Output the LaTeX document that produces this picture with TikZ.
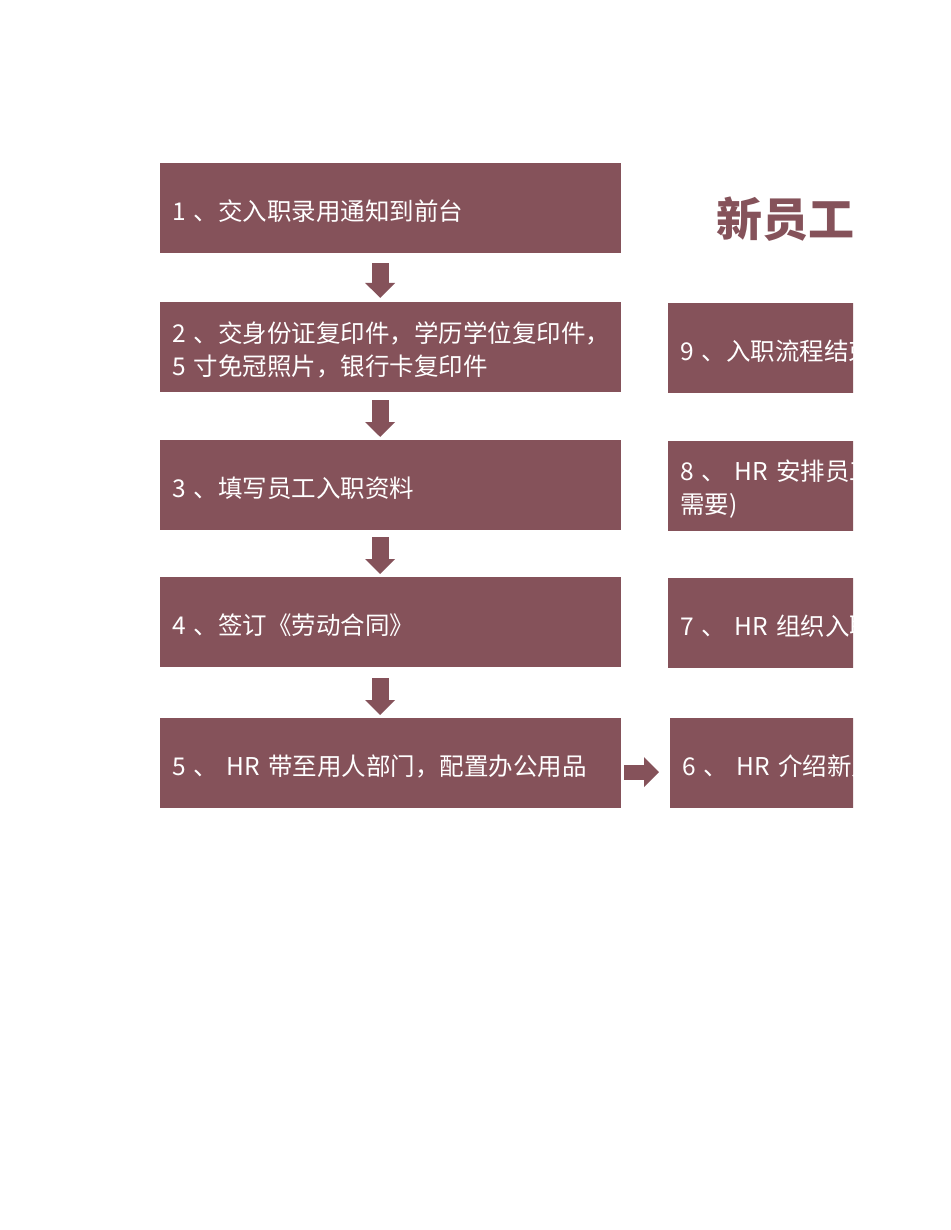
\documentclass[tikz,border=0pt]{standalone}
\usepackage{fontspec}
\setmainfont{Noto Sans CJK SC}
\usetikzlibrary{arrows.meta}
\definecolor{maroon}{RGB}{133,82,90}
\begin{document}
\begin{tikzpicture}[x=1pt,y=-1pt,
  stepbox/.style={fill=maroon, draw=none, text=white, anchor=north west,
    minimum height=90pt, minimum width=461pt, text width=437pt,
    inner xsep=12pt, inner ysep=0pt, align=left,
    font=\fontsize{24.5}{33}\selectfont,
    execute at begin node={\rule{0pt}{27pt}}},
  blockarrow/.style={draw=maroon, line width=17pt, -{Triangle[width=29pt,length=15pt]}},
]
\useasboundingbox (0,0) rectangle (950,1230);
\fill[white] (0,0) rectangle (950,1230);
\begin{scope}
\clip (0,0) rectangle (853,1230);
\node[stepbox] (b1) at (160,163) {1 、交入职录用通知到前台};
\node[stepbox] (b2) at (160,302) {2 、交身份证复印件，学历学位复印件，\\5 寸免冠照片，银行卡复印件};
\node[stepbox] (b3) at (160,440) {3 、填写员工入职资料};
\node[stepbox] (b4) at (160,577) {4 、签订《劳动合同》};
\node[stepbox] (b5) at (160,718) {5 、 HR 带至用人部门，配置办公用品};
\node[stepbox] (b9) at (668,303) {9 、入职流程结束};
\node[stepbox] (b8) at (668,441) {8 、 HR 安排员工\\需要)};
\node[stepbox] (b7) at (668,578) {7 、 HR 组织入职};
\node[stepbox] (b6) at (670,718) {6 、 HR 介绍新人};
\node[anchor=west, inner sep=0pt, text=maroon, font=\fontsize{46}{46}\selectfont\bfseries] (title) at (716,219) {新员工};
\draw[blockarrow] ([xshift=-10.5pt,yshift=-10pt]b1.south) -- ([xshift=-10.5pt,yshift=4pt]b2.north);
\draw[blockarrow] ([xshift=-10.5pt,yshift=-8pt]b2.south) -- ([xshift=-10.5pt,yshift=3pt]b3.north);
\draw[blockarrow] ([xshift=-10.5pt,yshift=-7pt]b3.south) -- ([xshift=-10.5pt,yshift=3pt]b4.north);
\draw[blockarrow] ([xshift=-10.5pt,yshift=-11pt]b4.south) -- ([xshift=-10.5pt,yshift=3pt]b5.north);
\draw[blockarrow, line width=15pt] ([xshift=3pt,yshift=-9pt]b5.east) -- ([xshift=-11pt,yshift=-9pt]b6.west);
\end{scope}
\end{tikzpicture}
\end{document}
